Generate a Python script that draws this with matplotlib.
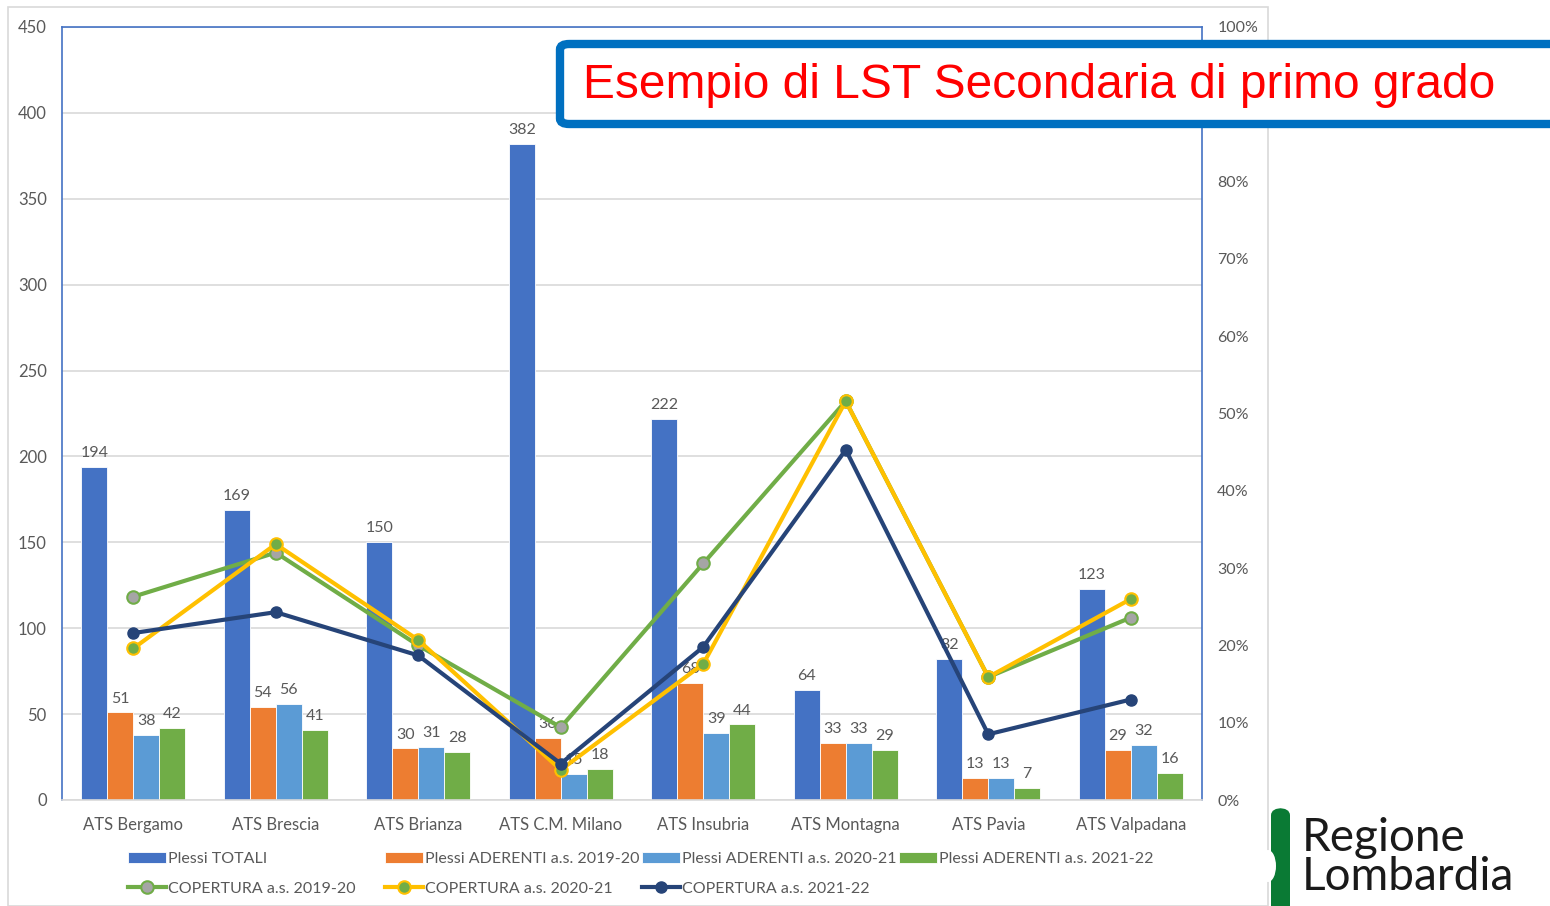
import matplotlib
matplotlib.use("Agg")
import matplotlib.pyplot as plt
import numpy as np
from matplotlib.patches import FancyBboxPatch, Rectangle, Ellipse

plt.rcParams['font.family'] = ['Lato', 'DejaVu Sans']

# data
categories = ["ATS Bergamo", "ATS Brescia", "ATS Brianza", "ATS C.M. Milano",
              "ATS Insubria", "ATS Montagna", "ATS Pavia", "ATS Valpadana"]
plessi_totali = [194, 169, 150, 382, 222, 64, 82, 123]
aderenti_1920 = [51, 54, 30, 36, 68, 33, 13, 29]
aderenti_2021 = [38, 56, 31, 15, 39, 33, 13, 32]
aderenti_2122 = [42, 41, 28, 18, 44, 29, 7, 16]
copertura_1920 = [26.3, 32.0, 20.0, 9.4, 30.6, 51.6, 15.9, 23.6]
copertura_2021 = [19.6, 33.1, 20.7, 3.9, 17.6, 51.6, 15.9, 26.0]
copertura_2122 = [21.6, 24.3, 18.7, 4.7, 19.8, 45.3, 8.5, 13.0]
pct_ticks = [0, 10, 20, 30, 40, 50, 60, 70, 80, 90, 100]

title = "Esempio di LST Secondaria di primo grado"

grey = '#595959'
W, H = 1550, 906
fig = plt.figure(figsize=(W / 100, H / 100), dpi=100)

# outer chart frame
fig.patches.append(Rectangle((8 / W, 0), 1260 / W, 1 - 7 / H, transform=fig.transFigure,
                             fill=False, edgecolor='#d9d9d9', linewidth=1.2))

ax = fig.add_axes([62 / W, 1 - 800 / H, 1140 / W, 773 / H])
x = np.arange(len(categories))
bw = 0.182
bars = [
    (plessi_totali, '#4472C4', 'Plessi TOTALI'),
    (aderenti_1920, '#ED7D31', 'Plessi ADERENTI a.s. 2019-20'),
    (aderenti_2021, '#5B9BD5', 'Plessi ADERENTI a.s. 2020-21'),
    (aderenti_2122, '#70AD47', 'Plessi ADERENTI a.s. 2021-22'),
]
bar_handles = []
for i, (vals, col, lab) in enumerate(bars):
    pos = x + (i - 1.5) * bw
    h = ax.bar(pos, vals, width=bw, color=col, edgecolor='white', linewidth=0.6,
               label=lab, zorder=2)
    bar_handles.append(h)
    for px, v in zip(pos, vals):
        ax.text(px, v + 4, str(v), ha='center', va='bottom', fontsize=11.5, color=grey, zorder=3)

ax.set_xlim(-0.5, len(categories) - 0.5)
ax.set_ylim(0, 450)
ax.set_yticks(range(0, 451, 50))
ax.set_xticks(x)
ax.set_xticklabels(categories)
ax.yaxis.grid(True, color='#d9d9d9', linewidth=1.2, zorder=0)
ax.set_axisbelow(True)
ax.tick_params(axis='both', length=0, labelsize=12, colors=grey)
ax.tick_params(axis='x', pad=12)
ax.tick_params(axis='y', pad=11)
for s in ['left', 'top', 'right']:
    ax.spines[s].set_color('#4472C4')
    ax.spines[s].set_linewidth(1.2)
ax.spines['bottom'].set_color('#d9d9d9')
ax.spines['bottom'].set_linewidth(1.2)

ax2 = ax.twinx()
ax2.set_ylim(0, 100)
ax2.set_yticks(pct_ticks)
# the 90% label sits behind the title banner in the original
ax2.set_yticklabels(["" if t == 90 else f"{t}%" for t in pct_ticks])
ax2.tick_params(axis='y', length=0, labelsize=11.5, colors=grey, pad=11)
for s in ax2.spines.values():
    s.set_visible(False)

l1, = ax2.plot(x, copertura_1920, color='#70AD47', linewidth=3, marker='o', markersize=9,
               markerfacecolor='#A5A5A5', markeredgecolor='#70AD47', markeredgewidth=1.5,
               label='COPERTURA a.s. 2019-20', zorder=4)
l2, = ax2.plot(x, copertura_2021, color='#FFC000', linewidth=3, marker='o', markersize=9,
               markerfacecolor='#70AD47', markeredgecolor='#FFC000', markeredgewidth=1.5,
               label='COPERTURA a.s. 2020-21', zorder=5)
l3, = ax2.plot(x, copertura_2122, color='#264478', linewidth=3, marker='o', markersize=8,
               markerfacecolor='#264478', markeredgecolor='#264478',
               label='COPERTURA a.s. 2021-22', zorder=6)

# legend: four equal-width columns, two rows
columns = [[bar_handles[0], l1], [bar_handles[1], l2], [bar_handles[2], l3], [bar_handles[3]]]
for k, col in enumerate(columns):
    fig.legend(handles=col, labels=[h.get_label() for h in col], ncol=1,
               loc='upper left', bbox_to_anchor=((128 + k * 257) / W, 1 - 852 / H),
               frameon=False, fontsize=11.5, labelcolor=grey, handlelength=2.4,
               handletextpad=0.1, labelspacing=0.95, borderaxespad=0, borderpad=0)

# title banner
fig.patches.append(FancyBboxPatch((560 / W, 1 - 124 / H), 1100 / W, 80 / H,
                                  boxstyle='round,pad=0,rounding_size=0.006',
                                  transform=fig.transFigure, facecolor='white',
                                  edgecolor='#0070C0', linewidth=6, zorder=10))
fig.text(583 / W, 1 - 86 / H, title, fontsize=34.5, color='#FF0000',
         family='Liberation Sans', ha='left', va='center', zorder=11)

# logo
fig.patches.append(FancyBboxPatch((1271 / W, -0.03), 19 / W, (98 / H) + 0.03,
                                  boxstyle='round,pad=0,rounding_size=0.008',
                                  transform=fig.transFigure, facecolor='#0A7A34',
                                  edgecolor='none', zorder=10))
fig.patches.append(Ellipse((1268 / W, 1 - 866 / H), 16 / W, 32 / H,
                           transform=fig.transFigure, facecolor='white',
                           edgecolor='none', zorder=11))
fig.text(1302 / W, 1 - 838 / H, "Regione", fontsize=33, color='#1a1a1a',
         ha='left', va='center', zorder=11)
fig.text(1302 / W, 1 - 877 / H, "Lombardia", fontsize=33, color='#1a1a1a',
         ha='left', va='center', zorder=11)

fig.savefig('out.png', dpi=100)
